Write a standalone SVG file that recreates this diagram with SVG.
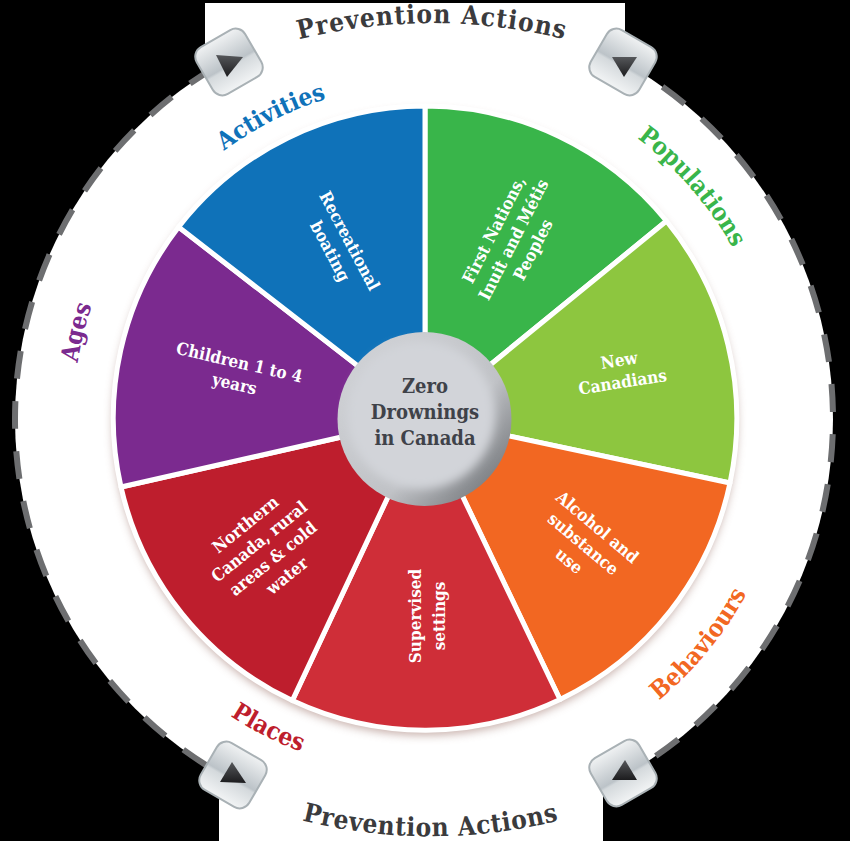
<svg xmlns="http://www.w3.org/2000/svg" width="850" height="841" viewBox="0 0 850 841">
<style>
text{font-family:"DejaVu Serif Condensed","DejaVu Serif","Liberation Serif",serif;font-weight:700}
.l{fill:#fff;font-size:17px;text-anchor:middle}
.c{font-size:24.500px;text-anchor:middle}
.pa{font-size:26px;fill:#3b3b3d;text-anchor:middle}
.seg{stroke:#fff;stroke-width:5;stroke-linejoin:round}
.key{stroke:#a9b1b5;stroke-width:2;fill:url(#k)}
.tri{fill:url(#t)}
</style>
<defs>
<linearGradient id="k" x1="0" y1="0" x2="0" y2="1"><stop offset="0" stop-color="#f0f2f3"/><stop offset=".55" stop-color="#bcc3c8"/><stop offset=".6" stop-color="#d4d9dc"/><stop offset="1" stop-color="#f2f4f5"/></linearGradient>
<linearGradient id="t" x1="0" y1="0" x2="0" y2="1"><stop offset="0" stop-color="#55575a"/><stop offset="1" stop-color="#1c1c1e"/></linearGradient>
<linearGradient id="hubrim" x1=".1" y1=".1" x2=".9" y2=".85"><stop offset="0" stop-color="#cfd1d5"/><stop offset=".65" stop-color="#c0c2c6"/><stop offset="1" stop-color="#7c7f83"/></linearGradient>
<filter id="sh" x="-10%" y="-10%" width="120%" height="120%"><feGaussianBlur stdDeviation="5"/></filter>
<filter id="hb" x="-20%" y="-20%" width="140%" height="140%"><feGaussianBlur stdDeviation="5"/></filter>
<path id="p-act" d="M161 212.700A335 335 0 0 1 413.300 84.200"/>
<path id="p-pop" d="M539.600 86.200A352 352 0 0 1 770.500 351.800"/>
<path id="p-age" d="M75 455.800A351 351 0 0 1 133.200 222.200"/>
<path id="p-beh" d="M553.800 761.600A366 366 0 0 0 786.100 478.800"/>
<path id="p-pla" d="M145.800 638.300A355 355 0 0 0 413.200 773.800"/>
<path id="p-top" d="M262 50A552 552 0 0 1 602 50"/>
<path id="p-bot" d="M260 808A528 528 0 0 0 601 808"/>
</defs>
<rect width="850" height="841" fill="#000"/>
<circle cx="424" cy="419" r="409" fill="#fff"/>
<g id="connectors"><circle cx="424" cy="419" r="409" fill="none" stroke="#6d6e70" stroke-width="6" pathLength="360" stroke-dasharray="3.920 3.139" stroke-dashoffset="-2.140"/></g>
<rect x="205" y="3" width="420" height="100" fill="#fff"/>
<rect x="219" y="740" width="384" height="101" fill="#fff"/>
<circle cx="425" cy="423" r="312" fill="#8a5a50" opacity=".5" filter="url(#sh)"/>
<g id="seg-populations"><path class="seg" fill="#39b54a" d="M425 418V106A312 312 0 0 1 666.500 221Z"/><text class="l" transform="translate(516 241) rotate(-63)"><tspan x="0" y="-19">First Nations,</tspan><tspan x="0" y="3">Inuit and Métis</tspan><tspan x="0" y="25">Peoples</tspan></text></g>
<g id="seg-canadians"><path class="seg" fill="#8dc63f" d="M425 418L666.500 221A312 312 0 0 1 730 483Z"/><text class="l" transform="translate(621 372) rotate(-9)"><tspan x="0" y="-6">New</tspan><tspan x="0" y="16">Canadians</tspan></text></g>
<g id="seg-alcohol"><path class="seg" fill="#f26722" d="M425 418L730 483A312 312 0 0 1 560 699.500Z"/><text class="l" transform="translate(584 543) rotate(40)"><tspan x="0" y="-15">Alcohol and</tspan><tspan x="0" y="7">substance</tspan><tspan x="0" y="29">use</tspan></text></g>
<g id="seg-supervised"><path class="seg" fill="#cf2e38" d="M425 418L560 699.500A312 312 0 0 1 292.300 700.600Z"/><text class="l" transform="translate(424 616) rotate(-90)"><tspan x="0" y="-3">Supervised</tspan><tspan x="0" y="21">settings</tspan></text></g>
<g id="seg-northern"><path class="seg" fill="#be1e2d" d="M425 418L292.300 700.600A312 312 0 0 1 121 487Z"/><text class="l" transform="translate(266 550) rotate(-39)"><tspan x="0" y="-27">Northern</tspan><tspan x="0" y="-5">Canada, rural</tspan><tspan x="0" y="17">areas &amp; cold</tspan><tspan x="0" y="39">water</tspan></text></g>
<g id="seg-children"><path class="seg" fill="#7b2a8f" d="M425 418L121 487A312 312 0 0 1 178.600 227Z"/><text class="l" transform="translate(237 373) rotate(13)"><tspan x="0" y="-5">Children 1 to 4</tspan><tspan x="0" y="17">years</tspan></text></g>
<g id="seg-boating"><path class="seg" fill="#0f72b9" d="M425 418L178.600 227A312 312 0 0 1 425 106Z"/><text class="l" transform="translate(340 246) rotate(62)"><tspan x="0" y="-5">Recreational</tspan><tspan x="0" y="17">boating</tspan></text></g>
<g id="hub-node"><circle cx="424.500" cy="419" r="87" fill="url(#hubrim)"/><circle cx="421" cy="415" r="74" fill="#d2d4d9" filter="url(#hb)"/><text text-anchor="middle" font-size="20" fill="#3f4249"><tspan x="425" y="393">Zero</tspan><tspan x="425" y="419">Drownings</tspan><tspan x="425" y="445">in Canada</tspan></text></g>
<g id="label-activities"><text class="c" fill="#0f72b9"><textPath href="#p-act" startOffset="50%">Activities</textPath></text></g>
<g id="label-populations"><text class="c" fill="#39b54a" dx="0"><textPath href="#p-pop" startOffset="50%">Populations</textPath></text></g>
<g id="label-ages"><text class="c" fill="#7b2a8f"><textPath href="#p-age" startOffset="50%">Ages</textPath></text></g>
<g id="label-behaviours"><text class="c" fill="#f26722"><textPath href="#p-beh" startOffset="50%">Behaviours</textPath></text></g>
<g id="label-places"><text class="c" fill="#be1e2d"><textPath href="#p-pla" startOffset="50%">Places</textPath></text></g>
<g id="label-prevention-top"><text class="pa" letter-spacing="1.100"><textPath href="#p-top" startOffset="50%">Prevention Actions</textPath></text></g>
<g id="label-prevention-bottom"><text class="pa" letter-spacing="0.600"><textPath href="#p-bot" startOffset="50%">Prevention Actions</textPath></text></g>
<g id="key-tl"><rect class="key" x="-28" y="-27" width="56" height="54" rx="11" transform="translate(229 62) rotate(-30)"/><path class="tri" d="M216 55L243 57L227 77Z"/></g>
<g id="key-tr"><rect class="key" x="-28" y="-27" width="56" height="54" rx="11" transform="translate(623 62) rotate(30)"/><path class="tri" d="M612 57L637 57L624 77Z"/></g>
<g id="key-bl"><rect class="key" x="-28" y="-27" width="56" height="54" rx="11" transform="translate(233 775) rotate(30)"/><path class="tri" d="M220 782L232 762L246 783Z"/></g>
<g id="key-br"><rect class="key" x="-28" y="-27" width="56" height="54" rx="11" transform="translate(623 773) rotate(-30)"/><path class="tri" d="M612 780L625 760L637 780Z"/></g>
</svg>
